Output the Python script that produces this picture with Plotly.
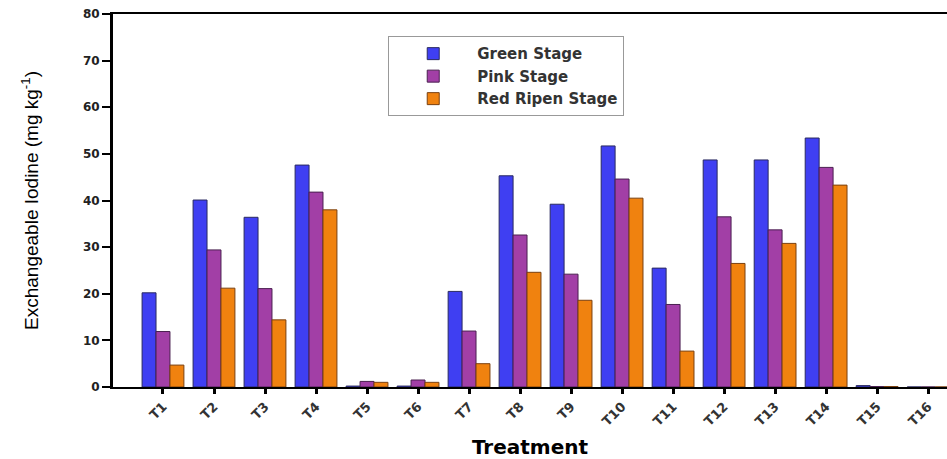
import plotly.graph_objects as go

treatments = ["T1","T2","T3","T4","T5","T6","T7","T8","T9","T10","T11","T12","T13","T14","T15","T16"]
green_stage = [20.2, 40.1, 36.4, 47.6, 0.2, 0.2, 20.5, 45.3, 39.2, 51.7, 25.5, 48.7, 48.7, 53.4, 0.3, 0.0]
pink_stage  = [11.9, 29.4, 21.1, 41.8, 1.2, 1.5, 12.0, 32.6, 24.2, 44.6, 17.7, 36.5, 33.7, 47.1, 0.1, 0.0]
red_stage   = [4.7, 21.2, 14.4, 38.0, 1.0, 1.0, 5.0, 24.6, 18.6, 40.5, 7.7, 26.5, 30.8, 43.3, 0.1, 0.0]

x_idx = list(range(len(treatments)))

fig = go.Figure()
fig.add_bar(x=x_idx, y=green_stage, name="Green Stage",
            marker=dict(color="#3f3ff2", line=dict(color="#2a2a60", width=1)))
fig.add_bar(x=x_idx, y=pink_stage, name="Pink Stage",
            marker=dict(color="#a23fa6", line=dict(color="#4a2050", width=1)))
fig.add_bar(x=x_idx, y=red_stage, name="Red Ripen Stage",
            marker=dict(color="#f0820f", line=dict(color="#7a4010", width=1)))

fig.update_layout(
    width=947, height=459,
    margin=dict(l=113, r=0, t=14, b=72),
    paper_bgcolor="white", plot_bgcolor="white",
    barmode="group", bargap=0.18, bargroupgap=0,
    font=dict(family="Liberation Sans, Arial", color="black"),
    legend=dict(x=0.33, y=0.94, xanchor="left", yanchor="top",
                bgcolor="white", bordercolor="#999", borderwidth=1,
                font=dict(size=15, color="#333", family="DejaVu Sans", weight="bold"),
                itemwidth=78, tracegroupgap=0),
    xaxis=dict(
        tickmode="array", tickvals=x_idx, ticktext=treatments,
        range=[-0.98, 15.37], tickangle=-45,
        showline=True, linecolor="black", linewidth=2, mirror=True,
        ticks="outside", ticklen=5, tickwidth=3, tickcolor="black",
        tickfont=dict(size=13, family="DejaVu Sans", color="#333", weight="bold"),
        title=dict(text="Treatment", font=dict(size=20, family="DejaVu Sans", weight="bold"), standoff=12),
        showgrid=False, zeroline=False,
    ),
    yaxis=dict(
        range=[0, 80], dtick=10, tick0=0,
        showline=True, linecolor="black", linewidth=3,
        ticks="outside", ticklen=8, tickwidth=2, tickcolor="black",
        tickfont=dict(size=12, family="DejaVu Sans", color="#222", weight="bold"),
        title=dict(text="Exchangeable Iodine (mg kg<sup>-1</sup>)",
                   font=dict(size=19, family="Liberation Sans, Arial"),
                   standoff=40),
        showgrid=False, zeroline=False,
    ),
)

fig.write_html("out.html")
